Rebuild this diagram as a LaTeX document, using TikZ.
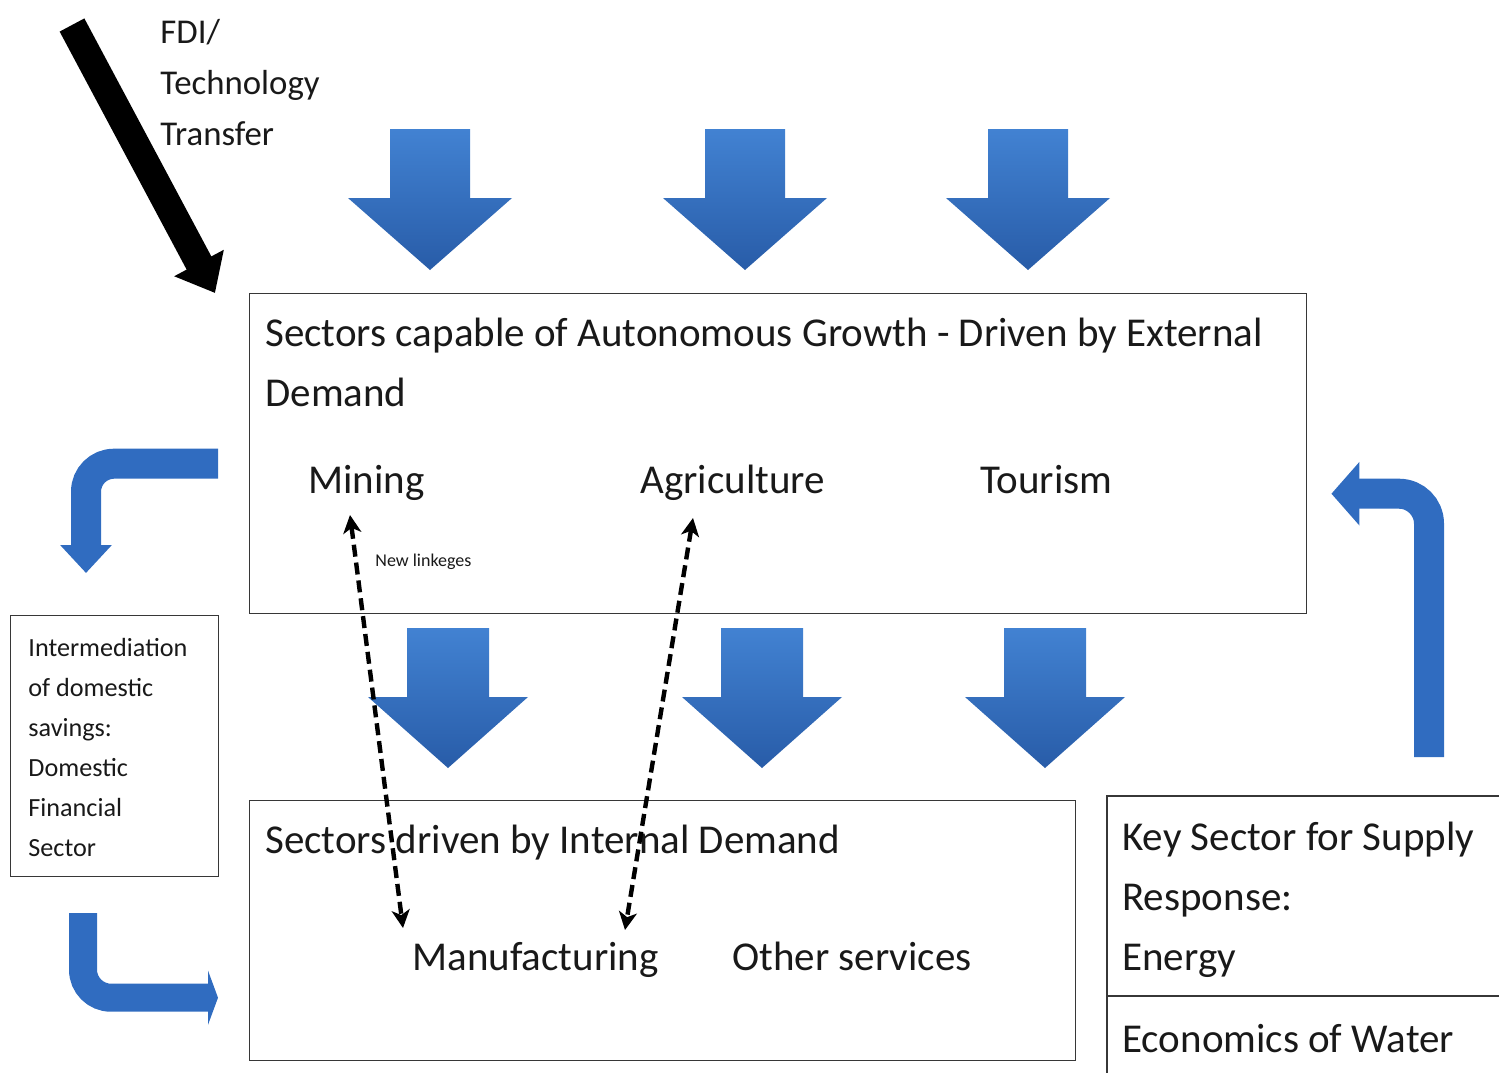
\documentclass[tikz,border=0pt]{standalone}
\usepackage{fontspec}
\setmainfont{Carlito}
\usetikzlibrary{arrows.meta,calc}

\definecolor{inkc}{RGB}{25,25,25}
\definecolor{boxline}{RGB}{55,55,55}
\definecolor{bluetop}{RGB}{66,130,210}
\definecolor{bluebot}{RGB}{40,92,168}
\definecolor{bendblue}{RGB}{48,108,192}

\tikzset{
  sector/.style={draw=boxline, line width=0.7pt, inner sep=0pt, anchor=north west},
  bigtxt/.style={inner sep=0pt, anchor=base west, text=inkc, align=left,
    font=\fontsize{20.5}{30}\selectfont},
  fditxt/.style={inner sep=0pt, anchor=base west, text=inkc, align=left,
    font=\fontsize{17.4}{25.5}\selectfont},
  smalltxt/.style={inner sep=0pt, anchor=base west, text=inkc, align=left,
    font=\fontsize{13.1}{20}\selectfont},
  tinytxt/.style={inner sep=0pt, anchor=base west, text=inkc,
    font=\fontsize{9}{10}\selectfont},
  link/.style={line width=2.2pt, dash pattern=on 6pt off 3pt,
    {Stealth[length=9pt,width=9pt,inset=2.5pt]}-{Stealth[length=9pt,width=9pt,inset=2.5pt]}},
  bendarrow/.style={draw=bendblue, line width=15pt, rounded corners=14pt},
  fdiarrow/.style={draw=black, line width=14pt, -{Triangle[width=27pt,length=17pt]}}
}

% broad shaded arrow pointing down: centre x, top, head base, tip, shaft half width, head half width
\newcommand\flowdown[6]{%
  \shade[top color=bluetop, bottom color=bluebot]
    (#1-#5,#2) -- (#1+#5,#2) -- (#1+#5,#3) -- (#1+#6,#3) -- (#1,#4)
    -- (#1-#6,#3) -- (#1-#5,#3) -- cycle;}

\begin{document}
\begin{tikzpicture}[x=0.5pt,y=-0.5pt]
\useasboundingbox (0,0) rectangle (1499,1072);

% sector boxes
\node[sector, minimum width=528.5pt, minimum height=160pt] (ext) at (249,293) {};
\node[sector, minimum width=413pt, minimum height=130pt] (int) at (249,800) {};
\node[sector, minimum width=104pt, minimum height=130.5pt] (fin) at (10,615) {};
\draw[boxline, line width=0.7pt] (1510,796) -- (1107,796) -- (1107,1080);
\draw[boxline, line width=0.7pt] (1107,996) -- (1510,996);

% external demand arrows
\flowdown{430}{129}{198}{270}{40}{82}
\flowdown{745}{129}{198}{270}{40}{82}
\flowdown{1028}{129}{198}{270}{40}{82}
% spill-over arrows into internal demand
\flowdown{448}{628}{697}{768}{41}{80}
\flowdown{762}{628}{697}{768}{41}{80}
\flowdown{1045}{628}{697}{768}{41}{80}

% texts (multi-line nodes sit on the baseline of their last line)
\node[fditxt] (fdi) at (160,145) {FDI/\\Technology\\Transfer};
\node[bigtxt] (extTitle) at (265,406) {Sectors capable of Autonomous Growth - Driven by External\\Demand};
\node[bigtxt] (mining) at (308,493) {Mining};
\node[bigtxt] (agri) at (640,493) {Agriculture};
\node[bigtxt] (tour) at (980,493) {Tourism};
\node[tinytxt] (note) at (375,566) {New linkeges};
\node[bigtxt] (intTitle) at (265,853) {Sectors driven by Internal Demand};
\node[bigtxt] (manuf) at (412,970) {Manufacturing};
\node[bigtxt] (other) at (732,970) {Other services};
\node[smalltxt] (savings) at (28,856) {Intermediation\\of domestic\\savings:\\Domestic\\Financial\\Sector};
\node[bigtxt] (key) at (1122,970) {Key Sector for Supply\\Response:\\Energy};
\node[bigtxt] (water) at (1122,1052) {Economics of Water};

% new linkages
\draw[link] ($(mining.base west)+(42,22)$) -- ($(manuf.base west)+(-9,-42)$);
\draw[link] ($(agri.base west)+(53,25)$) -- ($(manuf.base west)+(213,-40)$);

% FDI / technology transfer
\coordinate (fdiStart) at (72,25);
\coordinate (fdiTip) at ($(ext.north west)+(-34,0)$);
\draw[fdiarrow] (fdiStart) -- (fdiTip);

% savings loop and energy feedback
\coordinate (outTop) at ($(ext.west)+(-31,10)$);
\coordinate (toFin) at (86,573);
\coordinate (fromFin) at (83,913);
\coordinate (toInt) at ($(int.west)+(-31,67)$);
\coordinate (fromKey) at (1429,757);
\coordinate (toExt) at ($(ext.east)+(24,40)$);
\draw[bendarrow, -{Triangle[width=25pt,length=14pt]}] (outTop) -| (toFin);
\draw[bendarrow, line width=14pt, -{Triangle[width=27pt,length=5pt]}] (fromFin) |- (toInt);
\draw[bendarrow, rounded corners=15pt, -{Triangle[width=31pt,length=14pt]}] (fromKey) |- (toExt);
\end{tikzpicture}
\end{document}
